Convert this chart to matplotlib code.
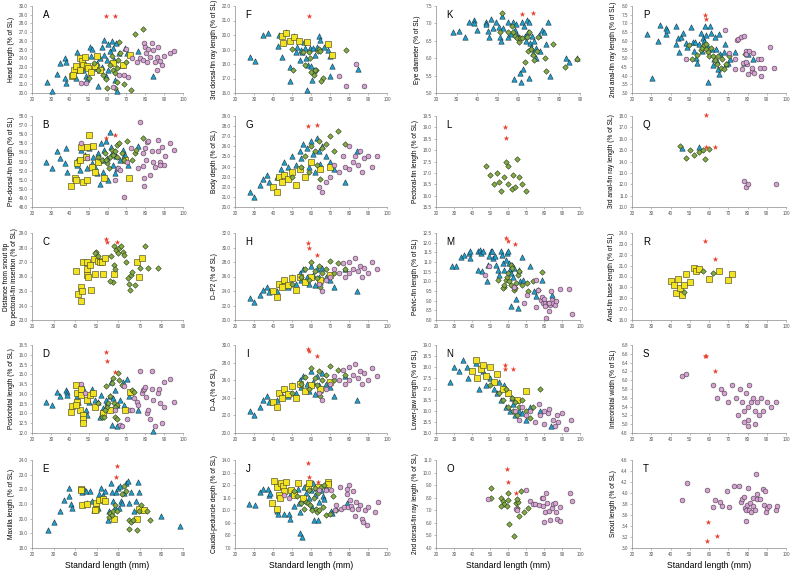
import matplotlib.pyplot as plt
from matplotlib.ticker import FormatStrFormatter, MultipleLocator

plt.rcParams['font.family'] = ['Liberation Sans', 'DejaVu Sans']

# ---- data: (standard length mm, % of SL) ----
# A  head length
A_tri = [(28.2,21.3),(30.6,20.2),(33.5,22.2),(35,23.4),(37.7,24.0),(38,23.6),(37.6,21.7),(38,21.1),
         (43.6,24.7),(43.2,22.6),(43.5,21.7),(47,22.6),(48.5,21.9),(49,21.6),(50.7,25.3),(51.5,24.2),
         (52,25.0),(53,22.9),(54.8,20.8),(56,24.0),(57,25.3),(58,26.1),(58.3,24.4),(59.5,23.8),(60,22.7),
         (60.5,25.6),(61.4,24.8),(62.3,26.0),(62.8,25.2),(63.5,23.8),(64,21.5),(64.5,25.7),(65.2,20.2),
         (66.3,24.6),(67.5,23.2),(69.3,25.2),(70.2,24.6),(75.9,24.8),(84,22.0),(59.2,21.9),(57,23.0),
         (54.4,23.4),(47.5,23.4),(45.4,22.9)]
A_sq = [(41,21.9),(42.2,22.6),(43.2,23.1),(45.4,24.0),(46.3,23.7),(47.2,23.2),(48,24.1),(49.3,23.1),
        (49.8,22.9),(51,22.4),(53.3,23.1),(54.2,24.3),(56,22.7),(63,23.4),(68,23.2),(72,24.4),(45.4,22.7),(41.8,22.1)]
A_dia = [(50.3,21.7),(52.8,23.5),(55,22.7),(57.8,22.1),(59.2,21.6),(59.9,20.6),(61.3,23.2),(62.2,24.2),
         (62.8,22.7),(64,22.3),(64.9,22.9),(65.2,21.3),(65.8,23.8),(66.3,25.9),(66.6,24.6),(68.8,21.0),
         (69.8,23.6),(72.5,20.3),(74.6,26.8),(78.7,27.3),(64,20.6)]
A_cir = [(46.2,21.1),(48.5,21.1),(63,20.7),(66.3,22.1),(68.8,22.1),(69.8,25.0),(71.1,21.8),(72.9,24.0),
         (75.5,23.6),(77.3,24.0),(78.7,23.8),(79.4,25.8),(80,25.3),(80.5,24.6),(80.9,23.6),(82.3,24.1),
         (83.5,25.7),(84,24.9),(85.3,23.6),(86.2,24.1),(87,25.3),(87.9,23.7),(88.8,23.2),(90,24.2),
         (93.2,24.6),(95.4,24.8),(81.7,25.1),(86.2,22.7)]
A_star = [(59.2,28.85),(64,28.9)]

# B  pre-dorsal-fin length
B_tri = [(27.6,53.0),(30.6,52.3),(33.3,54.2),(35,53.4),(37.4,52.8),(37.9,54.5),(38.3,51.9),(43.6,53.2),
         (44,52.6),(45.4,52.1),(46.2,54.3),(48,53.7),(49.3,52.3),(50.3,54.5),(51.6,52.8),(52.4,53.5),
         (53.3,52.4),(54.8,53.9),(56,50.5),(56.3,55.0),(57.8,53.2),(58.1,54.3),(59.2,55.2),(59.9,53.4),
         (60.5,51.0),(61.3,56.2),(61.7,54.6),(62.2,53.9),(63,52.6),(64,51.7),(64.5,53.6),(65.2,52.3),
         (66.6,53.2),(68,54.3),(68.8,53.6),(69.3,53.7),(71.1,52.6),(75.9,54.7),(57.8,51.9),(54.2,51.7)]
B_sq = [(40.4,50.3),(42.7,51.2),(43.2,51.0),(44,52.8),(45.4,53.2),(45.7,54.6),(47.2,50.8),(48.5,53.5),
        (49.3,51.0),(50.3,55.9),(51.6,52.4),(52.4,54.7),(53.3,51.9),(55.1,53.0),(58.1,51.2),(69.3,53.2),
        (71.6,51.2),(48.9,54.6)]
B_dia = [(55,53.5),(56.9,53.2),(58.7,53.9),(59.9,52.8),(61.3,53.5),(62.2,54.3),(63,53.7),(64,54.1),
         (64.9,54.8),(65.2,53.5),(66.3,55.0),(67.5,53.9),(68.8,53.2),(70.2,55.2),(72.9,53.2),(74.6,53.9),
         (75.3,54.3),(78.7,55.6),(59.2,53.2),(60.9,52.3)]
B_cir = [(46.2,55.0),(49.3,53.4),(64,51.0),(65.8,52.3),(66.6,52.1),(68.8,49.1),(70.2,53.0),(72.3,54.5),
         (76.4,52.3),(77.3,57.3),(78.7,52.5),(78.7,53.9),(79.1,50.3),(79.5,51.2),(80,54.5),(80.5,53.2),
         (80.9,55.1),(81.7,55.2),(82.3,51.5),(83.5,54.1),(84,53.0),(85.3,52.4),(86.5,54.1),(87,55.4),
         (87.9,53.0),(88.8,54.6),(89.7,52.6),(90.2,53.6),(93.2,55.0),(95.4,54.3),(87.9,52.6)]
B_star = [(59.2,55.55),(64,55.9)]

# C  snout tip to pectoral-fin insertion
C_sq = [(40.5,26.4),(42.5,25.3),(41.4,24.8),(43.2,25.0),(42.8,24.3),(43.5,27.0),(45.4,27.0),(45.4,26.5),
        (45.4,26.1),(45.8,26.0),(46.9,26.8),(47.4,25.1),(48.9,27.2),(49.4,26.2),(50.5,27.1),(51.5,27.0),
        (52.5,27.0),(52.8,26.2),(54,27.3),(58.2,26.2),(68.5,27.0),(69.4,26.0),(71.2,27.3)]
C_dia = [(49.7,27.7),(50.5,27.4),(49.4,27.6),(56.6,27.4),(58.2,26.8),(58.6,26.5),(59,27.8),(59.7,27.6),
         (60.5,28.0),(61.3,28.1),(57.4,25.6),(56.3,25.7),(62,27.7),(62.8,27.5),(63.5,27.0),(64.3,25.9),
         (64.8,25.5),(65.5,25.1),(65.8,26.1),(66.3,26.3),(67.8,25.4),(70,26.6),(72.5,28.1),(74,26.6),
         (78.6,26.6),(58.2,28.1)]
C_star = [(54.3,28.6),(54.9,28.4),(59.5,28.4)]

# D  postorbital length
D_tri = [(27.6,13.6),(30.6,13.45),(33.5,14.1),(35,13.9),(37.9,14.2),(38.3,14.1),(38.3,13.95),(43.6,13.9),
         (44.5,13.6),(47,14.3),(48.5,13.2),(49.3,12.9),(50.3,13.6),(51.6,14.25),(53.3,13.7),(55.1,13.6),
         (56,12.8),(56.5,13.95),(56.9,13.1),(57.8,13.3),(59.2,13.35),(59.9,13.6),(61.3,13.9),(61.7,14.6),
         (62.2,12.4),(63,13.8),(64,14.2),(64.9,12.35),(65.2,13.45),(66.6,13.7),(68,14.6),(68.8,13.45),
         (70.2,14.75),(71.6,13.9),(75.9,13.2),(84,12.1),(59.2,13.7)]
D_sq = [(40.4,13.05),(41,13.4),(43.2,14.45),(43.6,14.05),(44,13.6),(45.4,13.2),(45.7,14.25),(46.2,13.95),
        (47,12.9),(47.2,12.7),(47.2,12.5),(49.3,13.7),(50.7,13.95),(52.4,14.05),(53.3,13.35),(57.8,13.0),
        (61.3,13.2),(69.3,13.2),(72,14.1),(43.2,13.45)]
D_dia = [(55.1,13.55),(56.9,12.8),(58.1,12.8),(59.2,14.4),(59.9,13.35),(60.5,13.55),(61.3,13.9),(62.2,14.55),
         (62.8,14.8),(63.5,13.55),(64,12.8),(64.9,13.45),(65.2,12.7),(65.8,15.05),(66.3,14.7),(67.5,14.45),
         (72.9,14.2),(74.1,14.1),(64,13.35),(58.7,13.2)]
D_cir = [(46.2,14.5),(48,14.05),(64,13.2),(66.6,12.4),(67.5,12.35),(68.8,14.4),(70.2,12.7),(72,13.2),
         (72.9,13.2),(74.1,13.8),(75.5,13.6),(76.4,13.45),(77.3,15.15),(78.2,14.05),(78.7,14.2),(79.4,14.25),
         (80,14.35),(80.5,13.85),(80.9,13.0),(81.7,13.2),(82.6,12.7),(83.5,15.15),(83.5,14.25),(84,13.7),
         (85.3,12.35),(87,14.05),(87.5,14.25),(87.9,13.55),(88.8,12.5),(89.7,14.6),(90,13.35),(93.2,14.75),(95.4,13.6)]
D_star = [(59.2,16.13),(59.5,15.7),(64,15.14)]

# E  maxilla length
E_tri = [(27.5,19.2),(30.1,19.77),(32.8,20.5),(34.8,21.24),(37.1,22.1),(37.1,21.55),(37.9,21.0),(38.4,20.74),
         (43.3,21.8),(44,22.0),(44.9,21.86),(45.7,21.1),(46.7,21.9),(48,21.2),(48.8,20.6),(50.8,20.7),
         (51.1,21.7),(51.9,22.1),(52.7,21.6),(53.9,21.9),(55,19.9),(55.8,20.5),(56.5,22.4),(57,21.8),
         (57.6,21.2),(58.6,20.8),(58.9,21.8),(59.7,22.1),(60.1,20.7),(60.7,22.2),(61.2,21.2),(61.9,21.1),
         (62.8,21.75),(63.5,22.4),(64.3,22.6),(64.8,21.1),(65.9,21.8),(67.4,20.5),(68.2,21.2),(69,22.5),
         (69.8,21.85),(70.5,20.6),(79.9,20.2),(88.4,19.5)]
E_sq = [(42.5,22.0),(43.3,20.9),(45.7,21.0),(49.6,20.65),(49.9,21.05),(51.1,21.3),(52.7,21.35),(53.9,21.2),
        (58.1,20.0),(68.5,20.0),(69.8,20.65),(72.1,20.6),(49.3,20.6),(42.9,21.95)]
E_dia = [(55.5,20.1),(56.3,20.4),(57,20.25),(57.6,20.5),(58.6,20.95),(59.2,20.5),(61.9,21.65),(62.8,22.2),
         (63.5,21.9),(64.8,19.3),(65.1,19.9),(65.9,19.8),(66.7,19.9),(68.5,19.25),(70.5,20.95),(73.3,20.5),
         (74.8,19.9),(69.5,20.5)]
E_star = [(59.2,23.6),(58.9,22.87)]

# F  3rd dorsal-fin ray length
F_tri = [(28,18.48),(30.4,18.18),(34.9,20.03),(37.5,20.17),(42.5,19.25),(43.4,20.03),(44.6,18.45),(46.9,20.24),
         (48.7,16.8),(49.2,17.77),(51,19.9),(51.9,18.86),(52.8,19.2),(54,18.3),(54.5,18.98),(55.2,18.8),
         (56.3,19.55),(56.6,19.1),(58,16.2),(58.4,17.95),(59.3,19.1),(60.2,17.85),(60.5,16.9),(61.1,19.1),
         (61.6,17.6),(62.3,18.63),(63.4,19.2),(64.1,19.94),(64.6,19.67),(66.9,19.2),(69,18.98),(69.9,18.57),
         (70.8,17.85),(69.9,17.2),(84.6,17.65),(57.5,18.4)]
F_sq = [(45,19.94),(46.9,20.12),(45.5,19.44),(49.2,19.62),(51,19.85),(53.5,19.62),(58,19.5),(69,19.4),(71.2,18.64)]
F_dia = [(49.9,19.04),(50.4,17.6),(56.6,17.9),(55.8,18.8),(58.8,18.8),(59.3,18.4),(60.2,17.42),(61.6,17.26),
         (62.8,17.6),(63.7,18.87),(64.1,19.04),(64.6,18.87),(66.4,17.02),(65.5,16.8),(78.5,18.98),(62.3,17.6)]
F_cir = [(74.7,17.15),(78.5,16.45),(83.6,18.0),(88.1,16.5)]
F_star = [(58.8,21.3)]

# G  body depth
G_tri = [(28,21.5),(30,21.0),(33,22.2),(35,22.8),(37,23.2),(38,22.5),(42,23.0),(44,23.8),(46,24.5),(48,24.0),
         (50,25.0),(52,24.2),(54,25.5),(55,24.8),(56,26.2),(58,25.8),(59,24.0),(60,26.5),(61,25.2),(62,23.5),
         (63,26.8),(64,25.5),(65,24.3),(66,26.0),(68,25.0),(70,24.5),(72,23.8),(78,22.5),(84,25.5)]
G_sq = [(40,22.0),(42,21.5),(43,23.0),(45,22.5),(46,23.2),(48,22.8),(50,23.5),(52,22.2),(54,23.8),(57,23.0),
        (60,24.5),(65,23.8),(70,24.0)]
G_dia = [(50,23.0),(55,24.0),(57,25.0),(59,23.5),(60,26.0),(62,25.5),(63,24.2),(64,26.5),(65,22.8),(66,25.8),
         (68,26.2),(70,27.0),(72,25.5),(74,27.5),(78,26.2)]
G_cir = [(64,22.0),(66,21.5),(68,22.5),(70,23.0),(72,24.2),(75,23.5),(77,25.0),(78,24.0),(80,26.0),(80,23.8),
         (82,24.5),(83,25.0),(85,24.2),(86,25.5),(87,23.5),(88,24.8),(90,25.0),(92,24.0),(95,25.0)]
G_star = [(58.5,28.0),(63,28.1)]

# H  D-P2
H_tri = [(28,23.0),(30,22.5),(33,23.5),(35,24.2),(37,24.5),(38,23.8),(42,24.0),(44,25.0),(46,25.5),(48,24.5),
         (50,26.0),(52,25.0),(54,26.5),(55,25.5),(56,27.0),(58,26.0),(59,25.0),(60,27.5),(61,26.2),(62,24.8),
         (63,27.0),(64,26.0),(65,25.2),(66,27.2),(68,26.0),(70,25.5),(72,24.5),(78,27.0),(84,24.0)]
H_sq = [(40,24.0),(42,23.2),(43,25.0),(45,24.5),(46,25.5),(48,24.8),(50,25.8),(52,24.2),(54,26.0),(57,25.2),
        (60,26.0),(65,25.5),(70,26.2)]
H_dia = [(50,25.0),(55,26.0),(57,27.0),(59,25.5),(60,28.0),(62,26.8),(63,25.8),(64,27.5),(65,24.5),(66,26.5),
         (68,27.0),(70,28.2),(72,26.5),(74,27.8),(78,27.0)]
H_cir = [(64,25.0),(66,24.0),(68,25.5),(70,26.0),(72,27.0),(75,26.5),(77,27.8),(78,26.0),(80,28.0),(80,26.5),
         (82,27.0),(83,28.5),(85,26.8),(86,27.5),(87,26.0),(88,27.2),(90,26.5),(92,28.0),(95,27.0)]
H_star = [(58.5,30.6),(59,29.9),(63,29.0)]

# I  D-A
I_tri = [(28,22.5),(30,22.0),(33,23.0),(35,23.8),(37,24.2),(38,23.5),(42,23.8),(44,24.5),(46,25.0),(48,24.2),
         (50,25.5),(52,24.6),(54,26.0),(55,25.2),(56,26.5),(58,25.6),(59,24.8),(60,27.0),(61,25.8),(62,24.4),
         (63,26.5),(64,25.5),(65,24.9),(66,26.8),(68,25.6),(70,25.2),(72,24.2),(78,26.5),(84,23.8)]
I_sq = [(40,23.5),(42,23.0),(43,24.6),(45,24.0),(46,25.0),(48,24.4),(50,25.3),(52,24.0),(54,25.6),(57,24.8),
        (60,25.5),(65,25.0),(70,25.8)]
I_dia = [(50,24.6),(55,25.6),(57,26.4),(59,25.0),(60,27.4),(62,26.3),(63,25.4),(64,27.0),(65,24.2),(66,26.0),
         (68,26.6),(70,27.6),(72,26.0),(74,27.2),(78,26.6)]
I_cir = [(64,24.6),(66,23.8),(68,25.0),(70,25.6),(72,26.5),(75,26.0),(77,27.2),(78,25.6),(80,27.5),(80,26.0),
         (82,26.6),(83,27.8),(85,26.2),(86,27.0),(87,25.6),(88,26.8),(90,26.0),(92,27.4),(95,26.5)]
I_star = [(58.5,29.5),(59,29.3),(63,28.8)]

# J  caudal-peduncle depth
J_tri = [(27.6,10.49),(30.3,10.41),(33,11.42),(34.6,11.69),(37.2,11.66),(37.8,11.21),(38.3,11.34),(42.2,9.96),
         (42.6,9.69),(45.8,9.74),(48.4,9.74),(49,9.34),(49.3,11.4),(51.1,10.33),(52.9,11.66),(53.8,10.6),
         (54.3,9.88),(54.3,8.2),(55.2,7.88),(55.6,10.81),(56.4,11.87),(57.3,11.34),(58.2,12.19),(59.1,10.94),
         (60,11.61),(60.4,10.28),(60.9,12.14),(61.8,9.26),(62.2,11.21),(62.7,11.74),(63.6,9.21),(64.4,10.68),
         (65.3,11.61),(66.2,11.13),(67.1,10.87),(68,11.87),(68.9,12.14),(70.7,9.96),(71,9.8),(78.7,10.6)]
J_sq = [(40.4,12.35),(39.6,10.54),(41.9,11.87),(42.2,10.14),(44.4,12.14),(45.4,11.93),(46.7,12.27),(45.8,11.55),
        (49.3,11.61),(51.1,11.21),(53.2,12.14),(55.6,10.94),(58.6,11.87),(59.1,12.14),(63.9,11.87),(68.9,12.27),
        (69.2,12.06),(43.1,11.21),(43.6,10.94)]
J_dia = [(51.1,11.55),(52.5,11.13),(54.7,10.54),(56.1,10.14),(57.3,10.68),(58.2,10.54),(59.1,11.61),(59.6,10.41),
         (60.4,10.01),(61.4,10.94),(62.2,11.74),(62.7,10.14),(63.2,9.88),(63.9,11.4),(64.4,10.01),(65.3,11.87),
         (66.2,10.28),(67.1,12.01),(68,9.61),(69.8,9.74),(71.6,11.13),(73.3,10.01)]
J_cir = [(45.8,11.21),(48.4,10.94),(64.4,11.61),(68,11.61),(70.7,11.61),(72.4,10.01),(73.3,10.41),(75.1,11.87),
         (76,10.14),(77.4,10.28),(78.7,11.66),(79.2,11.29),(79.6,10.28),(79.9,12.01),(80.4,10.81),(80.9,10.33),
         (81.7,10.14),(82.2,11.55),(83.1,9.53),(83.5,10.68),(84.9,10.14),(85.8,10.41),(86.7,9.34),(87.6,9.08),
         (88.4,10.01),(89.3,8.81),(89.9,10.28),(93.8,9.88),(95.2,10.68)]
J_star = [(58.6,13.73),(59.1,12.67),(63.6,12.27)]

# K  eye diameter
K_tri = [(28.2,6.76),(31,6.79),(33.9,6.61),(35.9,7.04),(38.7,7.09),(38.7,7.0),(39.7,6.8),(44.1,7.05),
         (44.4,6.98),(45.4,6.77),(45.7,6.62),(46.6,7.14),(47.7,6.88),(49,7.04),(50.7,6.91),(51,6.62),
         (51.6,6.48),(52.3,7.21),(52.8,6.88),(54.8,7.04),(55.2,6.6),(56.4,6.69),(57.2,7.04),(58,5.39),
         (58.4,6.8),(58.9,6.98),(59.2,6.66),(60.2,6.6),(61,5.58),(61.3,5.33),(61.8,7.04),(62.5,5.69),
         (62.9,6.93),(63.4,6.64),(63.8,6.5),(64.3,7.09),(64.6,6.74),(65.1,7.04),(65.4,5.42),(65.7,6.45),
         (66.2,6.31),(66.7,6.64),(67,6.15),(67.5,6.5),(68.4,6.28),(68.7,6.0),(70,6.66),(70.7,6.21),
         (71.6,6.81),(72.3,6.76),(73.3,6.4),(74.4,7.04),(75.2,5.5),(83.1,6.0),(88.4,6.0),(84.6,5.88)]
K_dia = [(52,7.31),(51,6.74),(54.8,6.74),(56.9,6.93),(57.5,6.76),(58.5,6.64),(59.2,6.57),(60.2,6.47),
         (60.8,6.57),(61.8,6.57),(63.4,5.88),(64.1,6.6),(64.6,6.21),(65.4,6.74),(66.2,6.26),(67,6.09),
         (67.4,5.96),(69,6.21),(69.5,6.62),(72.8,6.0),(73.6,5.64),(76.9,6.4),(82.6,5.74),(88.4,5.98)]
K_star = [(61.8,7.26),(67,7.29)]

# L  pectoral-fin length
L_dia = [(48,17.3),(50,16.9),(52,16.5),(54,17.0),(55,16.6),(56,16.2),(58,16.8),(59,17.5),(60,17.3),
         (60,16.5),(62,16.3),(63,16.9),(64,16.4),(65,17.6),(66,16.8),(68,16.5),(70,16.2)]
L_star = [(58.5,19.0),(58.8,18.55)]

# M  pelvic-fin length
M_tri = [(28.8,10.77),(31.2,10.77),(34,11.25),(35.6,11.38),(38.4,11.46),(38.7,11.55),(39.1,11.2),(43.1,10.6),
         (43.6,11.55),(44.3,11.63),(44.9,11.46),(45.4,10.52),(46.1,11.55),(48.4,10.0),(48.9,10.85),(49.6,11.29),
         (50.6,11.55),(51.3,11.55),(51.9,11.2),(52.7,11.29),(53.1,10.85),(54.2,10.6),(54.9,10.34),(55.9,11.55),
         (56.6,11.38),(57.1,10.94),(58,10.6),(58.9,11.12),(59.4,11.46),(60.1,11.55),(60.6,10.94),(61.2,10.63),
         (61.5,8.73),(61.9,10.42),(62.4,10.85),(62.9,10.25),(63.6,10.68),(64.7,9.07),(65.4,8.6),(65.9,10.6),
         (66.8,10.0),(67.6,11.25),(68.5,10.09),(72,10.77),(74.6,9.5),(79,10.09),(84.3,9.31),(75.5,9.23)]
M_dia = [(54.2,10.09),(57.7,9.73),(57.1,9.65),(58,9.82),(58.9,10.09),(59.4,10.25),(60.1,10.42),(60.6,10.0),
         (61.5,9.82),(61.9,10.85),(62.4,10.68),(63.3,9.73),(63.6,9.53),(64.1,9.65),(64.7,9.9),(65.4,10.34),
         (67.6,9.82),(70.3,9.9),(71.1,9.48),(73.8,10.0),(76.4,9.56),(79,10.46),(65.9,10.51)]
M_cir = [(47.1,10.34),(49.6,10.77),(63.6,9.73),(68.9,8.87),(70.7,9.3),(75.5,8.66),(75.5,10.09),(76.9,9.56),
         (78.1,9.05),(79,9.18),(79.4,8.87),(79.9,9.07),(80.4,8.87),(81.1,8.09),(82.2,8.87),(82.5,8.44),
         (83.4,8.79),(83.9,9.48),(84.3,9.05),(85.1,8.87),(86,8.79),(86.9,8.96),(88.7,9.6),(93.9,9.6),
         (95.7,8.32),(82.9,8.87),(80.7,8.7)]
M_star = [(58.9,12.24),(59.8,12.07),(64.1,11.95)]

# N  lower-jaw length
N_tri = [(28,17.3),(30,18.0),(33,17.8),(35,18.3),(37,18.0),(38,17.5),(42,18.2),(44,17.0),(46,17.8),(48,17.2),
         (50,17.5),(52,17.0),(54,16.8),(55,17.3),(56,16.5),(58,17.2),(59,16.2),(60,16.8),(61,16.0),(62,16.6),
         (63,16.3),(64,15.8),(65,16.5),(66,16.0),(68,15.9),(70,15.6),(72,16.2),(78,16.0),(84,15.3)]
N_sq = [(40,17.8),(42,18.3),(43,17.5),(45,17.9),(46,18.1),(48,17.6),(50,18.0),(52,17.3),(54,17.7),(57,17.0),
        (60,16.8),(65,16.5),(70,16.9)]
N_dia = [(50,17.2),(55,16.8),(57,16.5),(59,17.0),(60,16.2),(62,16.6),(63,16.0),(64,16.4),(65,15.8),(66,16.2),
         (68,16.5),(70,16.0),(72,15.7),(74,16.2),(78,17.0)]
N_cir = [(64,16.0),(66,15.6),(68,16.2),(70,15.8),(72,16.0),(75,15.5),(77,16.3),(78,15.8),(80,16.0),(80,15.4),
         (82,15.9),(83,16.1),(85,15.6),(86,15.3),(87,15.8),(88,15.5),(90,15.9),(92,15.2),(95,15.6)]
N_star = [(58.5,18.1),(58.5,17.9),(63,17.9)]

# O  2nd dorsal-fin ray length
O_dia = [(50.4,8.76),(50.8,7.97),(56.2,7.97),(57.1,7.7),(57.6,7.52),(56.2,7.31),(59.5,7.31),(60.2,8.41),
         (60.6,5.91),(63.4,4.98),(64.3,7.58),(64.8,7.17),(65.5,7.63),(66.1,6.58),(67,8.57),(68.9,6.84),
         (71,7.17),(65.2,7.9),(60.2,7.84)]
O_cir = [(49,7.9),(64.3,7.1),(65.2,7.0),(69.8,8.63),(72.1,7.7),(73.9,7.52),(75.2,7.52),(77,7.44),
         (78.8,7.97),(79.4,7.36),(79.7,8.0),(80.1,6.04),(80.6,6.84),(81.2,8.41),(81.9,7.57),(83,6.91),
         (83.3,6.25),(84.3,7.17),(85.2,7.49),(86.1,7.57),(86.6,6.84),(87.3,6.3),(88.8,7.23),(89.1,6.12),
         (94.6,8.41),(95.5,7.7)]
O_star = [(59.5,10.26),(60.2,9.28),(64.3,8.36)]

# P  2nd anal-fin ray length
P_tri = [(28,6.41),(30.2,3.89),(33.6,6.01),(34.8,6.92),(37.5,6.71),(37.9,6.39),(38.3,6.62),(42.6,6.86),
         (43,5.82),(43.8,6.16),(44.3,5.35),(45.5,6.22),(46.4,6.45),(48.1,5.88),(48.4,5.65),(50.6,6.77),
         (51.5,5.92),(52.3,5.41),(52.9,5.92),(53.5,5.03),(54,4.74),(54.9,5.79),(55.7,6.45),(56.3,5.41),
         (57,6.16),(57.4,5.97),(58,6.83),(58.3,6.35),(59.1,5.73),(59.7,3.61),(60.3,6.86),(60.9,6.45),
         (61.4,5.54),(62,4.59),(62.6,4.97),(63,6.22),(63.7,5.5),(64.3,4.84),(64.8,4.36),(65.1,4.08),
         (65.4,6.41),(65.9,5.26),(67.7,5.35),(68.2,5.84),(68.9,4.65),(69.9,4.74),(71.1,4.93),(73.6,5.35),
         (80.1,5.22),(83,4.93),(78.4,4.74)]
P_dia = [(49.8,5.73),(51.1,4.93),(54,5.16),(55.7,5.46),(56.6,5.6),(57.4,5.73),(58.3,5.84),(58.6,5.5),
         (59.7,5.35),(60,5.12),(60.9,5.6),(62,5.12),(63.1,4.89),(64.3,4.65),(64.8,5.12),(66,4.46),
         (66.8,4.97),(67.7,4.36),(68.9,4.65),(70.2,5.12),(78.7,5.22)]
P_cir = [(48.1,4.93),(68.2,6.64),(70.2,5.31),(73.6,4.93),(73.6,4.36),(74.5,6.07),(75.3,6.11),(76.7,6.22),
         (77.4,4.36),(77.9,4.74),(78.4,6.26),(79,5.41),(79.3,5.22),(79.9,4.65),(80.4,4.08),(80.9,5.41),
         (82.1,4.27),(82.4,4.41),(82.8,5.31),(83.3,4.13),(85.5,4.93),(86.4,4.41),(87,3.95),(87.2,4.93),
         (88.6,4.41),(91.5,5.65),(94,4.46),(79,4.8)]
P_star = [(58,7.49),(58.3,7.24)]

# Q  3rd anal-fin ray length
Q_tri = [(46,15.2),(55,15.3)]
Q_dia = [(45,15.4),(48,14.3),(50,15.0),(52,14.6),(55,14.8),(57,15.0),(58,14.2),(60,15.1)]
Q_cir = [(78,12.3),(79,11.8),(80,12.0),(95,12.0)]
Q_star = [(58.5,18.1),(58.5,15.3),(63,15.3)]

# R  anal-fin base length
R_sq = [(40,19.6),(42,19.2),(43,18.5),(44,19.8),(45,18.9),(46,18.3),(47,19.2),(48,20.2),(50,19.5),(52,20.8),
        (53,20.5),(55,20.7),(60,19.8),(65,20.5),(70,19.7),(72,20.2)]
R_dia = [(47,18.6),(57,20.5),(62,20.3)]
R_star = [(58,23.3),(63,21.6)]

# S  interorbital width
S_cir = [(46,6.1),(48,6.15),(62,5.9),(64,5.6),(66,5.8),(68,5.7),(70,5.5),(72,5.9),(74,5.6),(75,5.2),(76,5.8),
         (77,5.5),(78,5.3),(79,5.7),(80,5.4),(80,5.1),(81,5.9),(82,5.5),(83,5.6),(84,5.3),(85,5.5),(86,5.2),
         (87,5.6),(88,5.3),(90,5.5),(92,5.4),(95,5.5),(78,5.05),(80,4.95),(84,5.0)]
S_star = [(58,6.55),(58.5,6.55),(63,6.2)]

# T  snout length
T_cir = [(46.1,3.88),(48.4,4.18),(59.2,4.06),(62.3,3.75),(63.2,3.87),(65.9,3.83),(66.8,3.76),(69.5,4.04),
         (70.4,3.75),(73.1,4.13),(75.8,4.13),(76.7,3.83),(77.3,3.89),(78,3.93),(78.5,3.73),(79.1,3.5),
         (79.4,3.69),(79.8,3.79),(80.4,4.09),(80.9,3.69),(81.5,3.82),(82,3.66),(82.6,3.91),(83,3.76),
         (83.9,3.69),(84.4,4.34),(84.7,3.99),(85.1,3.89),(86.5,3.89),(88.3,4.07),(88.7,3.79),(89.2,4.04),
         (89.8,3.66),(90.1,3.72),(91,3.76),(94.6,3.69),(95.5,3.76)]
T_star = [(59.6,3.47),(59.2,3.12),(64.1,3.21)]

# panel letter, y label, x max, (y min, y max, y step), series
panels = [
    ("A", "Head length (% of SL)", 100, (20, 30, 1.0), [A_tri, A_sq, A_dia, A_cir, A_star]),
    ("B", "Pre-dorsal-fin length (% of SL)", 100, (48, 58, 1.0), [B_tri, B_sq, B_dia, B_cir, B_star]),
    ("C", "Distance from snout tip\nto pectoral-fin insertion (% of SL)", 90, (23, 29, 1.0), [[], C_sq, C_dia, [], C_star]),
    ("D", "Postorbital length (% of SL)", 100, (12, 16.5, 0.5), [D_tri, D_sq, D_dia, D_cir, D_star]),
    ("E", "Maxilla length (% of SL)", 90, (18, 24, 1.0), [E_tri, E_sq, E_dia, [], E_star]),
    ("F", "3rd dorsal-fin ray length (% of SL)", 100, (16, 22, 1.0), [F_tri, F_sq, F_dia, F_cir, F_star]),
    ("G", "Body depth (% of SL)", 100, (20, 29, 1.0), [G_tri, G_sq, G_dia, G_cir, G_star]),
    ("H", "D\u2013P2 (% of SL)", 100, (20, 32, 2.0), [H_tri, H_sq, H_dia, H_cir, H_star]),
    ("I", "D\u2013A (% of SL)", 100, (20, 30, 2.0), [I_tri, I_sq, I_dia, I_cir, I_star]),
    ("J", "Caudal-peduncle depth (% of SL)", 100, (7, 14, 1.0), [J_tri, J_sq, J_dia, J_cir, J_star]),
    ("K", "Eye diameter (% of SL)", 90, (5, 7.5, 0.5), [K_tri, [], K_dia, [], K_star]),
    ("L", "Pectoral-fin length (% of SL)", 100, (15.5, 19.5, 0.5), [[], [], L_dia, [], L_star]),
    ("M", "Pelvic-fin length (% of SL)", 100, (8, 12.5, 0.5), [M_tri, [], M_dia, M_cir, M_star]),
    ("N", "Lower-jaw length (% of SL)", 100, (15, 19, 0.5), [N_tri, N_sq, N_dia, N_cir, N_star]),
    ("O", "2nd dorsal-fin ray length (% of SL)", 100, (4, 11, 1.0), [[], [], O_dia, O_cir, O_star]),
    ("P", "2nd anal-fin ray length (% of SL)", 100, (3, 8, 0.5), [P_tri, [], P_dia, P_cir, P_star]),
    ("Q", "3rd anal-fin ray length (% of SL)", 100, (10, 18, 1.0), [Q_tri, [], Q_dia, Q_cir, Q_star]),
    ("R", "Anal-fin base length (% of SL)", 100, (16, 24, 1.0), [[], R_sq, R_dia, [], R_star]),
    ("S", "Interorbital width (% of SL)", 100, (4.8, 6.8, 0.2), [[], [], [], S_cir, S_star]),
    ("T", "Snout length (% of SL)", 100, (3.0, 4.6, 0.2), [[], [], [], T_cir, T_star]),
]

# marker styles: triangle, square, diamond, circle, star
styles = [
    dict(marker='^', s=15, c='#1e9fcc', edgecolors='#1d3440', linewidths=0.4),
    dict(marker='s', s=13, c='#f3e21f', edgecolors='#3a3a1a', linewidths=0.4),
    dict(marker='D', s=8, c='#85ab46', edgecolors='#2a3a1a', linewidths=0.4),
    dict(marker='o', s=12, c='#d6a2d2', edgecolors='#4a3a4a', linewidths=0.4),
    dict(marker='*', s=18, c='#e8412d', linewidths=0),
]

W, H = 790, 571
fig = plt.figure(figsize=(W / 100, H / 100), dpi=100)

col_x = [32, 235, 436, 632]
col_w = [151, 152, 144, 154]
rows = [(6, 93), (116, 207), (233, 320), (345, 433), (460, 548)]

for i, (letter, ylab, xmax, (y0, y1, ystep), series) in enumerate(panels):
    c, r = divmod(i, 5)
    top, bot = rows[r]
    ax = fig.add_axes([col_x[c] / W, 1 - bot / H, col_w[c] / W, (bot - top) / H])
    for pts, st in zip(series, styles):
        if pts:
            xs, ys = zip(*pts)
            ax.scatter(xs, ys, zorder=3, clip_on=False, **st)
    ax.set_xlim(20, xmax)
    ax.set_ylim(y0, y1)
    ax.xaxis.set_major_locator(MultipleLocator(10))
    ax.yaxis.set_major_locator(MultipleLocator(ystep))
    ax.yaxis.set_major_formatter(FormatStrFormatter('%.1f'))
    for side in ['top', 'right']:
        ax.spines[side].set_visible(False)
    for side in ['left', 'bottom']:
        ax.spines[side].set_linewidth(0.5)
        ax.spines[side].set_color('#8a8a8a')
    ax.tick_params(labelsize=3.3, length=1.5, width=0.4, pad=1.5, colors='#8a8a8a', labelcolor='#555555')
    pad = 0.8 if '\n' in ylab else 3
    ax.set_ylabel(ylab, fontsize=4.8, labelpad=pad, linespacing=1.05)
    ax.text(0.07, 0.9, letter, transform=ax.transAxes, fontsize=7, ha='left', va='center')
    if r == 4:
        ax.set_xlabel("Standard length (mm)", fontsize=6.2, labelpad=3)

fig.savefig('out.png', dpi=100)
